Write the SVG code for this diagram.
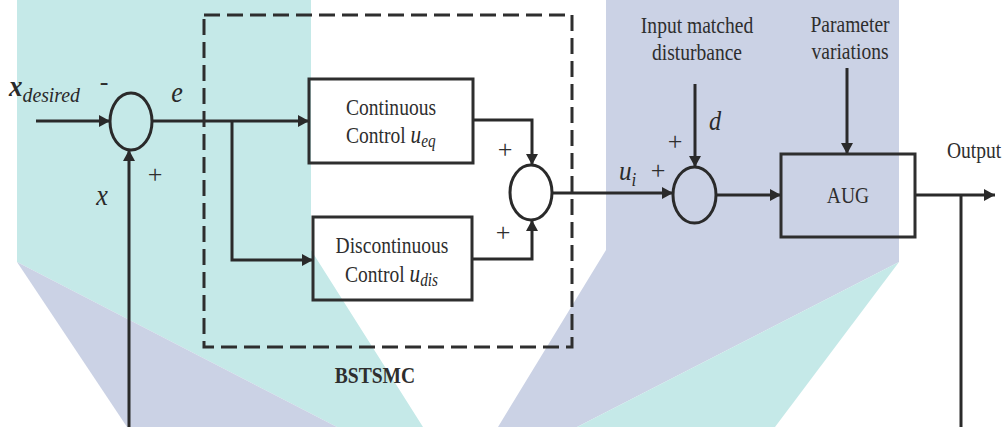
<svg xmlns="http://www.w3.org/2000/svg" width="1004" height="427" viewBox="0 0 1004 427">
<style>
.ln{fill:none;stroke:#2a2a2a;stroke-width:3}
.box{fill:none;stroke:#2e2e2e;stroke-width:3}
.sum{fill:none;stroke:#2a2a2a;stroke-width:3}
.dash{fill:none;stroke:#2e2e2e;stroke-width:3;stroke-dasharray:16 7}
.t{font-family:"Liberation Serif","Times New Roman",serif;fill:#2e2e2e;font-size:23px}
.m{font-family:"Liberation Serif","Times New Roman",serif;font-style:italic;fill:#2a2a2a}
.s{font-family:"Liberation Serif","Times New Roman",serif;fill:#2e2e2e;font-size:26px}
</style>
<defs>
<marker id="ah" markerUnits="userSpaceOnUse" markerWidth="11" markerHeight="12" refX="11" refY="6" orient="auto">
<path d="M0,0 L11,6 L0,12 z" fill="#2a2a2a"/>
</marker>
</defs>
<rect width="1004" height="427" fill="#ffffff"/>
<g id="watermark">
<polygon fill="#c5e9e8" points="17,0 311,0 311,250 423,427 337,427 17,262"/>
<polygon fill="#cbd2e5" points="17,262 337,427 127,427"/>
<polygon fill="#cbd2e5" points="606,0 899,0 899,262 577,427 498,427 606,250"/>
<polygon fill="#c5e9e8" points="899,262 775,427 577,427"/>
</g>
<g id="connectors">
<path class="ln" d="M36,121 H110" marker-end="url(#ah)"/>
<path class="ln" d="M152,121 H309" marker-end="url(#ah)"/>
<path class="ln" d="M232,121 V260 H313" marker-end="url(#ah)"/>
<path class="ln" d="M129,427 V150" marker-end="url(#ah)"/>
<path class="ln" d="M473,120 H532 V165" marker-end="url(#ah)"/>
<path class="ln" d="M472,259 H532 V220" marker-end="url(#ah)"/>
<path class="ln" d="M552,193 H673" marker-end="url(#ah)"/>
<path class="ln" d="M695,84 V167" marker-end="url(#ah)"/>
<path class="ln" d="M716,195 H781" marker-end="url(#ah)"/>
<path class="ln" d="M847,68 V154" marker-end="url(#ah)"/>
<path class="ln" d="M915,195 H995" marker-end="url(#ah)"/>
<path class="ln" d="M961,195 V427"/>
</g>
<g id="bstsmc">
<rect class="dash" x="204" y="15" width="368" height="332"/>
<text class="t" transform="translate(375 383) scale(0.85 1)" text-anchor="middle" font-weight="bold" font-size="21" fill="#1c2a2a">BSTSMC</text>
</g>
<g id="sum1">
<ellipse class="sum" cx="131" cy="121.5" rx="21" ry="28.5"/>
<text class="s" transform="translate(104 90)" text-anchor="middle" font-size="20">-</text>
<text class="s" transform="translate(155 183)" text-anchor="middle">+</text>
</g>
<g id="labels-left">
<text class="m" transform="translate(9 96) scale(0.9 1)"><tspan font-weight="bold" font-size="30">x</tspan><tspan font-size="22" dy="6">desired</tspan></text>
<text class="m" transform="translate(177 102) scale(0.9 1)" text-anchor="middle" font-size="29">e</text>
<text class="m" transform="translate(102 205) scale(0.9 1)" text-anchor="middle" font-size="29">x</text>
</g>
<g id="continuous">
<rect class="box" x="309" y="79" width="164" height="84"/>
<text class="t" transform="translate(391 115) scale(0.85 1)" text-anchor="middle">Continuous</text>
<text class="t" transform="translate(346 143) scale(0.85 1)">Control <tspan class="m" font-size="25">u</tspan><tspan class="m" font-size="18" dy="4">eq</tspan></text>
</g>
<g id="discontinuous">
<rect class="box" x="313" y="217" width="159" height="83"/>
<text class="t" transform="translate(392 253) scale(0.85 1)" text-anchor="middle">Discontinuous</text>
<text class="t" transform="translate(345 282) scale(0.85 1)">Control <tspan class="m" font-size="25">u</tspan><tspan class="m" font-size="18" dy="4">dis</tspan></text>
</g>
<g id="sum2">
<ellipse class="sum" cx="531" cy="192.5" rx="21" ry="27.5"/>
<text class="s" transform="translate(505 158)" text-anchor="middle">+</text>
<text class="s" transform="translate(503 241)" text-anchor="middle">+</text>
</g>
<g id="sum3">
<ellipse class="sum" cx="694.5" cy="195" rx="21.5" ry="28"/>
<text class="m" transform="translate(619 180) scale(0.9 1)" font-size="28">u<tspan font-size="19" dy="6">i</tspan></text>
<text class="s" transform="translate(658 179)" text-anchor="middle">+</text>
<text class="s" transform="translate(675 150)" text-anchor="middle">+</text>
<text class="m" transform="translate(715 130) scale(0.9 1)" text-anchor="middle" font-size="27">d</text>
</g>
<g id="disturbance">
<text class="t" transform="translate(697 33) scale(0.85 1)" text-anchor="middle" font-size="22">Input matched</text>
<text class="t" transform="translate(697 60) scale(0.85 1)" text-anchor="middle" font-size="22">disturbance</text>
</g>
<g id="parameter">
<text class="t" transform="translate(850 32) scale(0.85 1)" text-anchor="middle" font-size="22">Parameter</text>
<text class="t" transform="translate(850 59) scale(0.85 1)" text-anchor="middle" font-size="22">variations</text>
</g>
<g id="aug">
<rect class="box" x="781" y="154" width="134" height="83"/>
<text class="t" transform="translate(848 203) scale(0.85 1)" text-anchor="middle" font-size="22">AUG</text>
</g>
<g id="output">
<text class="t" transform="translate(947 158) scale(0.85 1)" font-size="21">Output</text>
</g>
</svg>
